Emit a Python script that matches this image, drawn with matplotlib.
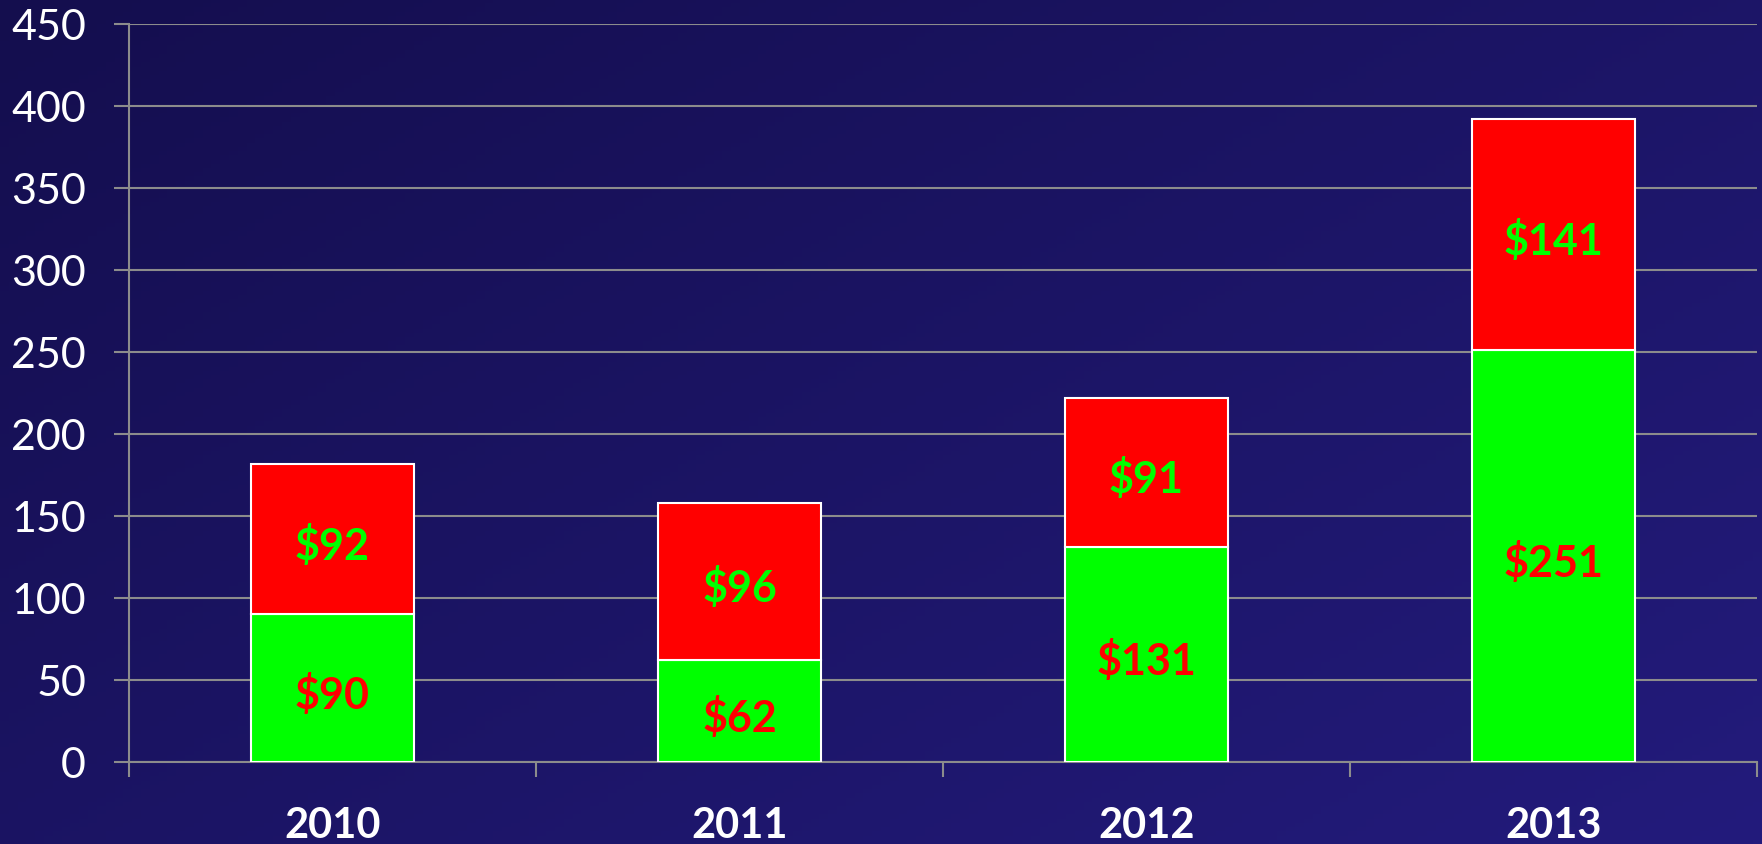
import matplotlib
matplotlib.use("Agg")
import matplotlib.pyplot as plt
import numpy as np

years = ["2010", "2011", "2012", "2013"]
green_vals = [90, 62, 131, 251]
red_vals = [92, 96, 91, 141]
yticks = [0, 50, 100, 150, 200, 250, 300, 350, 400, 450]

plt.rcParams['font.family'] = ['Lato', 'DejaVu Sans']

fig = plt.figure(figsize=(17.62, 8.45), dpi=100)

# gradient background (dark top-left -> lighter bottom-right)
bg = fig.add_axes([0, 0, 1, 1], zorder=-10)
xx, yy = np.meshgrid(np.linspace(0, 1, 200), np.linspace(0, 1, 200))
t = 0.55 * xx + 0.45 * yy
c0 = np.array([20, 14, 78]) / 255.0
c1 = np.array([35, 27, 124]) / 255.0
img = c0[None, None, :] * (1 - t[..., None]) + c1[None, None, :] * t[..., None]
bg.imshow(img, aspect='auto', extent=[0, 1, 0, 1], origin='upper')
bg.axis('off')

ax = fig.add_axes([129/1762, 1 - 763/845, (1757-129)/1762, (763-25)/845])
ax.patch.set_alpha(0)

x = np.arange(len(years))
w = 0.4
ax.bar(x, green_vals, width=w, color='#00ff00', edgecolor='white', linewidth=1.5, zorder=3)
ax.bar(x, red_vals, width=w, bottom=green_vals, color='#ff0000', edgecolor='white', linewidth=1.5, zorder=3)

for i in range(len(years)):
    ax.annotate(f"${green_vals[i]}", (x[i], green_vals[i] / 2), xytext=(0, -4),
                textcoords='offset points', ha='center', va='center',
                color='#ff0000', fontsize=31, fontweight='bold', zorder=4)
    ax.annotate(f"${red_vals[i]}", (x[i], green_vals[i] + red_vals[i] / 2), xytext=(0, -4),
                textcoords='offset points', ha='center', va='center',
                color='#00ff00', fontsize=31, fontweight='bold', zorder=4)

ax.set_xlim(-0.5, len(years) - 0.5)
ax.set_ylim(0, 450)
ax.set_yticks(yticks)
ax.set_yticklabels([str(v) for v in yticks])
ax.yaxis.grid(True, color='#8c8c8c', linewidth=1.5, zorder=0)
ax.set_axisbelow(True)

ax.set_xticks(x)
ax.set_xticklabels(years, fontweight='bold', fontsize=30, color='white')
ax.set_xticks(np.arange(-0.5, len(years)), minor=True)
ax.tick_params(axis='x', which='major', length=0, pad=32)
ax.tick_params(axis='x', which='minor', length=11, width=1.5, color='#8c8c8c', direction='out')
ax.tick_params(axis='y', length=11, width=1.5, color='#8c8c8c', labelsize=31, labelcolor='white', pad=20)

for s in ['top', 'right']:
    ax.spines[s].set_visible(False)
for s in ['left', 'bottom']:
    ax.spines[s].set_color('#8c8c8c')
    ax.spines[s].set_linewidth(1.5)

fig.savefig("out.png", dpi=100)
